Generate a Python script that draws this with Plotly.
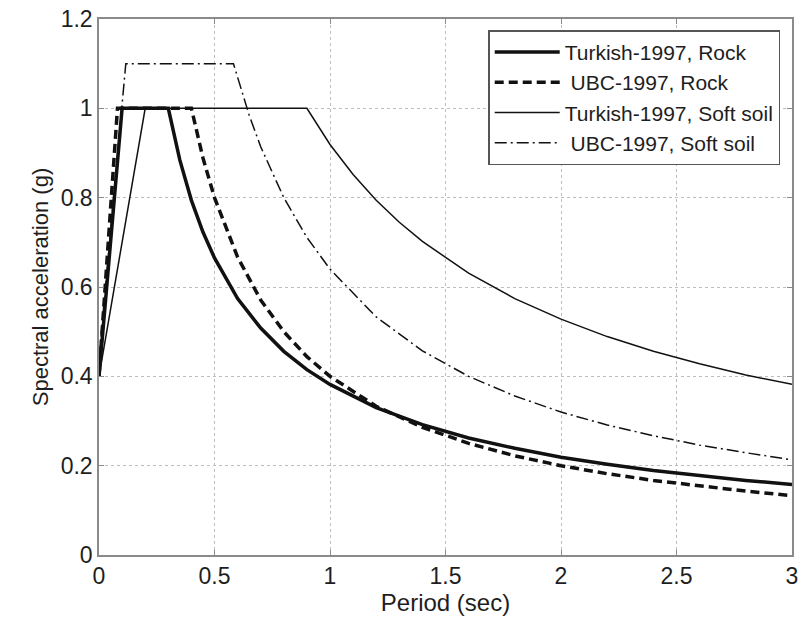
import plotly.graph_objects as go

# Turkish-1997, Rock
t_tr_rock = [0.0, 0.1, 0.3, 0.35, 0.4, 0.45, 0.5, 0.6, 0.7, 0.8, 0.9, 1.0, 1.2, 1.4, 1.6, 1.8, 2.0, 2.2, 2.4, 2.6, 2.8, 3.0]
sa_tr_rock = [0.40, 1.0, 1.0, 0.884, 0.794, 0.723, 0.665, 0.574, 0.508, 0.456, 0.415, 0.382, 0.330, 0.292, 0.262, 0.239, 0.219, 0.203, 0.189, 0.178, 0.167, 0.158]

# UBC-1997, Rock
t_ubc_rock = [0.0, 0.08, 0.4, 0.45, 0.5, 0.6, 0.7, 0.8, 0.9, 1.0, 1.2, 1.4, 1.6, 1.8, 2.0, 2.2, 2.4, 2.6, 2.8, 3.0]
sa_ubc_rock = [0.40, 1.0, 1.0, 0.889, 0.800, 0.667, 0.571, 0.500, 0.444, 0.400, 0.333, 0.286, 0.250, 0.222, 0.200, 0.182, 0.167, 0.154, 0.143, 0.133]

# Turkish-1997, Soft soil
t_tr_soft = [0.0, 0.2, 0.9, 1.0, 1.1, 1.2, 1.3, 1.4, 1.6, 1.8, 2.0, 2.2, 2.4, 2.6, 2.8, 3.0]
sa_tr_soft = [0.40, 1.0, 1.0, 0.919, 0.852, 0.794, 0.745, 0.702, 0.631, 0.574, 0.528, 0.489, 0.456, 0.428, 0.403, 0.382]

# UBC-1997, Soft soil
t_ubc_soft = [0.0, 0.116, 0.582, 0.65, 0.7, 0.8, 0.9, 1.0, 1.2, 1.4, 1.6, 1.8, 2.0, 2.2, 2.4, 2.6, 2.8, 3.0]
sa_ubc_soft = [0.44, 1.1, 1.1, 0.985, 0.914, 0.800, 0.711, 0.640, 0.533, 0.457, 0.400, 0.356, 0.320, 0.291, 0.267, 0.246, 0.229, 0.213]

series_names = ["Turkish-1997, Rock", "\u00a0UBC-1997, Rock", "Turkish-1997, Soft soil", "\u00a0UBC-1997, Soft soil"]

x_ticks = [0, 0.5, 1, 1.5, 2, 2.5, 3]
x_tick_text = ["0", "0.5", "1", "1.5", "2", "2.5", "3"]
y_ticks = [0, 0.2, 0.4, 0.6, 0.8, 1.0, 1.2]
y_tick_text = ["0", "0.2", "0.4", "0.6", "0.8", "1", "1.2"]

ink = "#111111"
txt = "#1e1e1e"
fig = go.Figure()
fig.add_trace(go.Scatter(x=t_tr_rock, y=sa_tr_rock, mode="lines", name=series_names[0],
                         line=dict(color=ink, width=3.5)))
fig.add_trace(go.Scatter(x=t_ubc_rock, y=sa_ubc_rock, mode="lines", name=series_names[1],
                         line=dict(color=ink, width=3.5, dash="9px,5px")))
fig.add_trace(go.Scatter(x=t_tr_soft, y=sa_tr_soft, mode="lines", name=series_names[2],
                         line=dict(color=ink, width=1.5)))
fig.add_trace(go.Scatter(x=t_ubc_soft, y=sa_ubc_soft, mode="lines", name=series_names[3],
                         line=dict(color=ink, width=1.5, dash="12px,4px,2px,4px")))

axis_common = dict(
    showline=True, linecolor="#8a8a8a", linewidth=1.5, mirror="ticks",
    ticks="inside", ticklen=5, tickcolor="#8a8a8a",
    showgrid=True, gridcolor="#bdbdbd", griddash="dot", gridwidth=1,
    zeroline=False, tickfont=dict(size=23, color=txt), automargin=False,
)
fig.update_xaxes(range=[0, 3], tickvals=x_ticks, ticktext=x_tick_text,
                 title=dict(text="Period (sec)", font=dict(size=24, color=txt), standoff=2),
                 **axis_common)
fig.update_yaxes(range=[0, 1.2], tickvals=y_ticks, ticktext=y_tick_text,
                 title=dict(text="Spectral acceleration (g)", font=dict(size=22, color=txt), standoff=6),
                 **axis_common)

fig.update_layout(
    width=809, height=623,
    margin=dict(l=99, r=17, t=19, b=68),
    paper_bgcolor="white", plot_bgcolor="white",
    font=dict(family="Liberation Sans, Arial, sans-serif", color=txt),
    legend=dict(x=0.983, y=0.979, xanchor="right", yanchor="top",
                bgcolor="white", bordercolor="#555555", borderwidth=1.5,
                font=dict(size=21, color=txt), itemwidth=65, tracegroupgap=0),
    showlegend=True,
)

fig.write_html("out.html")
